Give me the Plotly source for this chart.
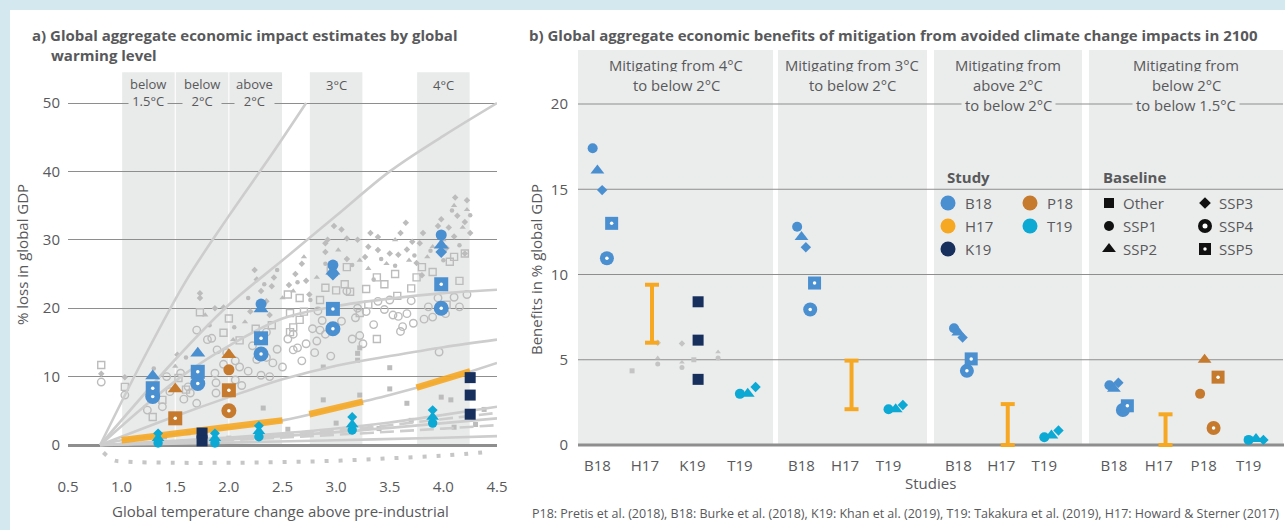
import plotly.graph_objects as go

W, H = 1285, 530
FONT = "Open Sans"
TXT = "#58595b"


def fx(p):
    return p / W


def fy(p):
    return 1 - p / H


COL = {"B18": "#4a8fd0", "P18": "#c57a2d", "H17": "#f7a823",
       "T19": "#0ba9d4", "K19": "#172f5c"}
GRAY_PT = "#bcbcbc"
CURVE = "#cdcdcd"
BAND = "#e9eaea"
FACET = "#ebecec"
GRID = "#8e8e8e"
BLUE_BG = "#d4e8f0"

# ---------------- (a) impact estimates by warming level ----------------
temp_ticks = [0.5, 1.0, 1.5, 2.0, 2.5, 3.0, 3.5, 4.0, 4.5]
loss_ticks = [0, 10, 20, 30, 40, 50]
warming_bands = [(1.0, 1.5), (1.5, 2.0), (2.0, 2.5), (2.75, 3.25), (3.75, 4.25)]
band_labels = ["below<br>1.5°C", "below<br>2°C", "above<br>2°C", "3°C", "4°C"]

# damage functions (temperature °C, loss % GDP)
fn_steep_t = [0.8, 1.2, 1.6, 2.0, 2.4, 2.72]
fn_steep_l = [0, 12.5, 24, 33.5, 42.5, 50]
fn_high_t = [0.8, 1.5, 2.0, 2.5, 3.0, 3.5, 4.0, 4.5]
fn_high_l = [0, 12.5, 20.5, 27, 33.5, 40, 45.2, 50]
fn_sat_t = [0.8, 1.2, 1.6, 2.0, 2.5, 3.0, 3.5, 4.0, 4.5]
fn_sat_l = [0, 5.5, 10.5, 14.5, 18.5, 20.3, 21.4, 22.2, 22.7]
fn_mid_t = [0.8, 1.5, 2.0, 2.5, 3.0, 3.5, 4.0, 4.5]
fn_mid_l = [0, 4.2, 7.0, 9.6, 11.6, 13.0, 14.3, 15.4]
fn_quad_t = [0.8, 1.0, 1.5, 2.0, 2.5, 3.0, 3.5, 4.0, 4.5]
fn_quad_l = [0, 0.7, 1.6, 2.5, 3.6, 5.4, 7.3, 9.5, 12.0]
fn_low1_t = [0.8, 1.5, 2.0, 2.5, 3.0, 3.5, 4.0, 4.5]
fn_low1_l = [0, 0.6, 1.1, 1.7, 2.4, 3.3, 4.4, 5.6]
fn_low2_t = [0.8, 1.5, 2.5, 3.5, 4.5]
fn_low2_l = [0, 0.45, 1.3, 2.5, 3.9]
fn_low3_t = [0.8, 2.0, 3.0, 4.0, 4.5]
fn_low3_l = [0, 0.35, 0.7, 1.05, 1.3]
fn_dash1_t = [0.8, 1.5, 2.0, 2.5, 3.0, 3.5, 4.0, 4.5]
fn_dash1_l = [0, 0.6, 1.0, 1.5, 2.1, 2.9, 3.8, 4.7]
fn_dash2_t = [0.8, 2.0, 3.0, 4.0, 4.5]
fn_dash2_l = [0, 0.7, 1.5, 2.4, 2.9]
fn_gain_t = [0.83, 0.92, 1.0, 1.5, 2.0, 2.5, 3.0, 3.5, 4.0, 4.43]
fn_gain_l = [-1.1, -2.2, -2.4, -2.6, -2.6, -2.5, -2.3, -1.95, -1.55, -1.0]

# H17 within the warming bands
h17_seg_t = [[1.0, 1.5, 2.0, 2.5], [2.75, 3.0, 3.25], [3.75, 4.0, 4.25]]
h17_seg_l = [[0.7, 1.6, 2.5, 3.6], [4.5, 5.4, 6.35], [8.4, 9.5, 10.75]]

# literature estimates (grey)
lit_circles = [(0.81, 9.2), (1.03, 7.3), (1.24, 5.1), (1.38, 5.6), (1.42, 10), (1.55, 10.5),
               (1.62, 8.5), (1.64, 7.6), (1.7, 6.1), (1.7, 16.8), (1.8, 15.4), (1.84, 15.6),
               (1.89, 13.9), (1.87, 10.5), (1.88, 9.1), (1.88, 7.6), (1.98, 13.5), (2.06, 12.3),
               (2.1, 11.4), (2.06, 9.5), (2.12, 8.7), (2.22, 14.5), (2.26, 12.5), (2.3, 13.4),
               (2.35, 12.8), (2.41, 12), (2.38, 10), (2.3, 10.2), (2.6, 13.9), (2.64, 14.2),
               (2.55, 15.5), (2.8, 13.5), (2.82, 15.2), (2.85, 16.8), (2.87, 18.2), (2.83, 19.6),
               (2.78, 17), (2.6, 16.2), (3.18, 18.6), (3.2, 20), (3.28, 19.5), (3.39, 21),
               (3.22, 16), (3.25, 14.8), (3.5, 21.2), (3.53, 19), (3.58, 18.8), (3.66, 19.2),
               (3.6, 16.6), (3.62, 17.3), (3.72, 17.8), (3.86, 20.2), (3.9, 18.7), (3.95, 21.5),
               (4.02, 19.2), (3.96, 13.6), (4.1, 21.6), (4.22, 22), (3.1, 22.5), (3.15, 15.5),
               (2.95, 13), (2.68, 12.3), (2.5, 11.4), (2.45, 14), (2.35, 16.5), (1.45, 7.8),
               (1.58, 6.7), (1.95, 11.8), (2.18, 10.8), (2.72, 14.8), (2.9, 16.2), (3.05, 18.1),
               (3.35, 17.6), (3.45, 19.8), (3.7, 21.1), (3.82, 18.4), (4.15, 20.2)]
lit_squares = [(0.81, 11.7), (1.03, 8.5), (1.29, 4.1), (1.38, 6.6), (1.53, 9.8), (1.6, 8.1),
               (1.73, 19.4), (1.95, 16.4), (2.0, 18.5), (2.1, 15.3), (2.25, 17), (2.3, 15.5),
               (2.4, 17.5), (2.57, 19.3), (2.57, 16.5), (2.6, 17.2), (2.66, 18.3), (2.66, 21.5),
               (2.7, 19.5), (2.55, 22), (2.85, 21.2), (2.9, 23), (3.0, 22.6), (3.08, 23.5),
               (3.13, 22.4), (3.28, 22.8), (3.38, 24.5), (3.3, 20.5), (3.22, 19.3), (3.45, 23.5),
               (3.55, 25), (3.7, 22.9), (3.75, 24.5), (3.8, 26), (3.9, 25.3), (4.06, 26.8),
               (4.15, 24), (4.2, 28), (4.03, 20.5), (4.1, 27.5), (3.38, 15.5), (3.57, 21.8),
               (3.1, 26), (2.95, 25.5)]
lit_diamonds = [(0.81, 10.4), (1.03, 9.9), (1.52, 13.2), (1.73, 22.2), (1.73, 21.5), (1.87, 20),
                (1.95, 20.1), (2.2, 19.5), (2.24, 25.6), (2.26, 24.2), (2.3, 22.5), (2.35, 21),
                (2.4, 23.2), (2.38, 19), (2.42, 24.5), (2.56, 23.4), (2.62, 25), (2.68, 26.5),
                (2.72, 24), (2.75, 22), (2.9, 28.2), (2.9, 29.5), (2.92, 30), (3.1, 30.2),
                (3.2, 30), (3.27, 27.5), (3.3, 29), (3.32, 31), (3.39, 28.5), (3.39, 30.4),
                (3.5, 28), (3.58, 27.8), (3.66, 28.6), (3.71, 29.7), (3.78, 29.5), (3.81, 31),
                (3.75, 26.6), (3.8, 24.8), (4.03, 28.8), (4.1, 30.5), (4.2, 28), (4.11, 36.2),
                (4.22, 35.8), (4.13, 33.5), (4.2, 32.6), (4.05, 31.8), (3.98, 33), (3.95, 32),
                (4.25, 31), (3.6, 31), (3.65, 32.5), (3.1, 27.2), (2.98, 32), (3.05, 31.5)]
lit_triangles = [(1.5, 11.5), (1.78, 19), (2.04, 15.4), (2.15, 18), (2.28, 20.5), (2.5, 21.5),
                 (2.7, 27.5), (2.82, 24.5), (3.02, 28.5), (3.22, 27), (3.3, 25.8), (3.47, 26.5),
                 (3.68, 27), (3.85, 27.5), (4.0, 30), (4.1, 35), (4.22, 34.4), (4.18, 31.8),
                 (3.9, 29), (3.55, 30), (2.6, 22.5)]
lit_dots = [(1.3, 11.2), (1.6, 12.8), (1.82, 17.5), (2.05, 17.2), (2.18, 21.5), (2.33, 23.5),
            (2.45, 25.6), (2.64, 23.8), (2.76, 21.2), (3.0, 25), (3.15, 26.3), (3.42, 27.2),
            (3.55, 26.2), (3.73, 27.7), (3.88, 28.4), (4.0, 27), (4.15, 29.2), (4.25, 33.6),
            (4.08, 34.3), (2.9, 26.5), (3.35, 24.2)]
lit_small_sq = [(2.88, 11.4), (3.22, 14.2), (3.2, 13.4), (3.2, 12.4), (3.5, 11.3), (3.5, 8.2),
                (2.88, 6.6), (3.22, 7.3), (3.66, 6.1), (3.98, 7.0), (4.07, 6.6), (2.32, 5.4),
                (2.55, 2.3), (2.7, 1.6), (3.0, 3.2), (3.7, 3.6), (4.1, 2.6), (1.4, 1.2),
                (1.62, 1.8), (2.0, 1.0), (3.4, 2.4), (4.3, 3.0), (4.38, 5.2)]

# highlighted studies (temperature, loss % GDP per baseline)
b18_temp = [1.29, 1.71, 2.30, 2.97, 3.98]
b18_ssp1 = [None, None, 20.6, 26.3, 30.7]
b18_ssp2 = [10.1, 13.4, 19.9, 25.4, 29.2]
b18_ssp3 = [None, None, None, 24.9, 28.2]
b18_ssp4 = [7.1, 9.0, 13.3, 17.0, 20.0]
b18_ssp5 = [8.3, 10.7, 15.6, 19.9, 23.5]
p18_temp = [1.50, 2.00]
p18_ssp1 = [None, 11.0]
p18_ssp2 = [8.2, 13.2]
p18_ssp4 = [None, 5.0]
p18_ssp5 = [3.9, 8.0]
t19_temp = [1.34, 1.87, 2.28, 3.15, 3.90]
t19_ssp1 = [0.3, 0.3, 1.2, 2.2, 3.2]
t19_ssp2 = [1.0, 1.0, 2.0, 3.0, 4.1]
t19_ssp3 = [1.7, 1.7, 2.8, 4.1, 5.1]
k19_temp = [1.75, 1.75, 4.25, 4.25, 4.25]
k19_loss = [1.75, 0.6, 9.85, 7.3, 4.5]

# ---------------- (b) benefits of mitigation in 2100 ----------------
facet_titles = [["Mitigating from 4°C", "to below 2°C"],
                ["Mitigating from 3°C", "to below 2°C"],
                ["Mitigating from", "above 2°C", "to below 2°C"],
                ["Mitigating from", "below 2°C", "to below 1.5°C"]]
facet_studies = [["B18", "H17", "K19", "T19"], ["B18", "H17", "T19"],
                 ["B18", "H17", "T19"], ["B18", "H17", "P18", "T19"]]
benefit_ticks = [0, 5, 10, 15, 20]
ben_b18_ssp1 = [17.4, 12.8, 6.85, 3.5]
ben_b18_ssp2 = [16.1, 12.2, 6.6, 3.3]
ben_b18_ssp3 = [14.95, 11.6, 6.3, 3.65]
ben_b18_ssp4 = [10.95, 7.95, 4.35, 2.05]
ben_b18_ssp5 = [13.0, 9.5, 5.05, 2.3]
ben_h17_low = [6.0, 2.1, 0.0, 0.0]
ben_h17_high = [9.4, 4.95, 2.4, 1.8]
ben_t19_ssp1 = [3.0, 2.1, 0.45, 0.3]
ben_t19_ssp2 = [3.0, 2.1, 0.55, 0.35]
ben_t19_ssp3 = [3.4, 2.35, 0.85, 0.3]
ben_k19_other = [8.4, 6.15, 3.85]
ben_p18_base = ["SSP1", "SSP2", "SSP4", "SSP5"]
ben_p18_val = [3.0, 5.0, 1.0, 3.98]
# other estimates shown in grey in the first facet (category position, benefit)
ben_grey_pos = [0.73, 1.27, 1.27, 1.27, 1.78, 1.78, 1.78, 2.03, 2.54, 2.54]
ben_grey_val = [4.35, 6.0, 5.1, 4.75, 5.95, 4.85, 4.55, 5.0, 5.45, 5.1]
ben_grey_sym = ["square", "diamond", "triangle-up", "circle", "diamond", "triangle-up",
                "circle", "square", "triangle-up", "circle"]

footnote = ("P18: Pretis et al. (2018), B18: Burke et al. (2018), K19: Khan et al. (2019), "
            "T19: Takakura et al. (2019), H17: Howard &amp; Sterner (2017)")

# ---------------- drawing ----------------
fig = go.Figure()


def add(x, y, xa, ya, **kw):
    fig.add_trace(go.Scatter(x=x, y=y, xaxis=xa, yaxis=ya, showlegend=False,
                             hoverinfo="skip", **kw))


SYMBOL = {"Other": "square", "SSP1": "circle", "SSP2": "triangle-up",
          "SSP3": "diamond", "SSP4": "circle", "SSP5": "square"}
SIZE_A = {"Other": 11, "SSP1": 11, "SSP2": 13, "SSP3": 9, "SSP4": 15, "SSP5": 14}
SIZE_B = {"Other": 11, "SSP1": 10, "SSP2": 12, "SSP3": 8, "SSP4": 14, "SSP5": 13}


def add_study(x, y, base, colour, xa, ya, sizes, scale=1.0):
    pts = [(a, b) for a, b in zip(x, y) if b is not None]
    if not pts:
        return
    xs, ys = [p[0] for p in pts], [p[1] for p in pts]
    add(xs, ys, xa, ya, mode="markers",
        marker=dict(symbol=SYMBOL[base], size=sizes[base] * scale, color=colour,
                    line=dict(width=0)))
    if base in ("SSP4", "SSP5"):
        add(xs, ys, xa, ya, mode="markers",
            marker=dict(symbol="circle", size=3.5, color="white", line=dict(width=0)))


# panel (a): grey literature points
for pts, sym, size, lw in [(lit_circles, "circle-open", 7.5, 1.4), (lit_squares, "square-open", 7, 1.4),
                           (lit_diamonds, "diamond", 5, 0), (lit_triangles, "triangle-up", 5.5, 0),
                           (lit_dots, "circle", 4.5, 0), (lit_small_sq, "square", 5, 0)]:
    add([p[0] for p in pts], [p[1] for p in pts], "x", "y", mode="markers",
        marker=dict(symbol=sym, size=size, color=GRAY_PT, line=dict(color=GRAY_PT, width=lw)))

# panel (a): damage functions
for t, l in [(fn_steep_t, fn_steep_l), (fn_high_t, fn_high_l), (fn_sat_t, fn_sat_l),
             (fn_mid_t, fn_mid_l), (fn_quad_t, fn_quad_l), (fn_low1_t, fn_low1_l),
             (fn_low2_t, fn_low2_l), (fn_low3_t, fn_low3_l)]:
    add(t, l, "x", "y", mode="lines", line=dict(color=CURVE, width=2.6, shape="spline"))
for t, l in [(fn_dash1_t, fn_dash1_l), (fn_dash2_t, fn_dash2_l)]:
    add(t, l, "x", "y", mode="lines",
        line=dict(color=CURVE, width=2.6, shape="spline", dash="14px,6px"))
add(fn_gain_t, fn_gain_l, "x", "y", mode="lines",
    line=dict(color="#c6c6c6", width=4, shape="spline", dash="4px,10px"))

for t, l in zip(h17_seg_t, h17_seg_l):
    add(t, l, "x", "y", mode="lines", line=dict(color=COL["H17"], width=6.5), opacity=0.9)

# panel (a): highlighted studies
for base, vals in [("SSP1", b18_ssp1), ("SSP2", b18_ssp2), ("SSP3", b18_ssp3),
                   ("SSP4", b18_ssp4), ("SSP5", b18_ssp5)]:
    add_study(b18_temp, vals, base, COL["B18"], "x", "y", SIZE_A)
for base, vals in [("SSP1", p18_ssp1), ("SSP2", p18_ssp2), ("SSP4", p18_ssp4), ("SSP5", p18_ssp5)]:
    add_study(p18_temp, vals, base, COL["P18"], "x", "y", SIZE_A)
for base, vals in [("SSP1", t19_ssp1), ("SSP2", t19_ssp2), ("SSP3", t19_ssp3)]:
    add_study(t19_temp, vals, base, COL["T19"], "x", "y", SIZE_A, 0.85)
add_study(k19_temp, k19_loss, "Other", COL["K19"], "x", "y", SIZE_A)

# panel (b): facets
FACET_PX = [(578, 773, 597.4, 47.5), (778, 927, 801.5, 43.5),
            (934, 1082, 958.3, 43.0), (1089, 1283, 1113.9, 44.9)]
FACET_AX = ["x2", "x3", "x4", "x5"]
SSP_ORDER = {"SSP1": 0, "SSP2": 1, "SSP3": 2, "SSP4": 3, "SSP5": 4}
DODGE = {"B18": (-0.1, 0.1), "P18": (-0.08, 0.1), "T19": (0.0, 0.165)}
H17_SHIFT, K19_SHIFT = 0.15, 0.12

add(ben_grey_pos, ben_grey_val, "x2", "y2", mode="markers",
    marker=dict(symbol=ben_grey_sym, size=5, color="#c4c4c4"))

for f, studies in enumerate(facet_studies):
    xa = FACET_AX[f]
    for idx, study in enumerate(studies):
        if study == "B18":
            for base, vals in [("SSP1", ben_b18_ssp1), ("SSP2", ben_b18_ssp2), ("SSP3", ben_b18_ssp3),
                               ("SSP4", ben_b18_ssp4), ("SSP5", ben_b18_ssp5)]:
                s0, st = DODGE["B18"]
                add_study([idx + s0 + st * SSP_ORDER[base]], [vals[f]], base, COL["B18"], xa, "y2", SIZE_B)
        elif study == "T19":
            for base, vals in [("SSP1", ben_t19_ssp1), ("SSP2", ben_t19_ssp2), ("SSP3", ben_t19_ssp3)]:
                s0, st = DODGE["T19"]
                add_study([idx + s0 + st * SSP_ORDER[base]], [vals[f]], base, COL["T19"], xa, "y2", SIZE_B)
        elif study == "P18":
            for base, val in zip(ben_p18_base, ben_p18_val):
                s0, st = DODGE["P18"]
                add_study([idx + s0 + st * SSP_ORDER[base]], [val], base, COL["P18"], xa, "y2", SIZE_B)
        elif study == "K19":
            add_study([idx + K19_SHIFT] * len(ben_k19_other), ben_k19_other, "Other",
                      COL["K19"], xa, "y2", SIZE_B)
        elif study == "H17":
            pos = idx + H17_SHIFT
            add([pos, pos], [ben_h17_low[f], ben_h17_high[f]], xa, "y2", mode="lines+markers",
                line=dict(color=COL["H17"], width=4),
                marker=dict(symbol="line-ew", size=10, color=COL["H17"],
                            line=dict(color=COL["H17"], width=4)))

# legend glyphs (pixel overlay)
leg_study = [("B18", 948, 203), ("H17", 948, 226), ("K19", 948, 249), ("P18", 1030, 203), ("T19", 1030, 226)]
for name, px, py in leg_study:
    add([px], [py], "x6", "y3", mode="markers",
        marker=dict(symbol="circle", size=15, color=COL[name]))
leg_base = [("Other", 1109, 203), ("SSP1", 1109, 226), ("SSP2", 1109, 249),
            ("SSP3", 1205, 203), ("SSP4", 1205, 226), ("SSP5", 1205, 249)]
LEG_SIZE = {"Other": 10, "SSP1": 10, "SSP2": 12, "SSP3": 9, "SSP4": 14, "SSP5": 12}
for name, px, py in leg_base:
    add([px], [py], "x6", "y3", mode="markers",
        marker=dict(symbol=SYMBOL[name], size=LEG_SIZE[name], color="#111111"))
    if name in ("SSP4", "SSP5"):
        add([px], [py], "x6", "y3", mode="markers",
            marker=dict(symbol="circle", size=5 if name == "SSP4" else 3.5, color="white"))

# ---------------- shapes ----------------
shapes = [dict(type="rect", xref="paper", yref="paper", x0=fx(10), x1=1, y0=0, y1=fy(10),
               fillcolor="white", line=dict(width=0), layer="below")]
A_TOP = 54.5
for x0, x1 in warming_bands:
    shapes.append(dict(type="rect", xref="x", yref="y", x0=x0 + 0.005, x1=x1 - 0.005, y0=0, y1=A_TOP,
                       fillcolor=BAND, line=dict(width=0), layer="below"))
B_PX = 17.05
B_TOP = 395 / B_PX
for lo, hi, _, _ in FACET_PX:
    shapes.append(dict(type="rect", xref="paper", yref="y2", x0=fx(lo), x1=fx(hi), y0=0, y1=B_TOP,
                       fillcolor=FACET, line=dict(width=0), layer="below"))
for v in benefit_ticks[1:]:
    shapes.append(dict(type="line", xref="paper", yref="y2", x0=fx(578), x1=fx(1283), y0=v, y1=v,
                       line=dict(color=GRID, width=1.2), layer="below"))
shapes.append(dict(type="line", xref="paper", yref="y2", x0=fx(578), x1=fx(1284), y0=0, y1=0,
                   line=dict(color="#8e8e8e", width=3), layer="below"))

# ---------------- annotations ----------------
anns = []


def text(t, px, py, size=15, anchor="center", bold=False, bg=None, angle=0, pad=2, color=TXT):
    a = dict(text=f"<b>{t}</b>" if bold else t, x=fx(px), y=fy(py), xref="paper", yref="paper",
             xanchor=anchor, yanchor="middle", showarrow=False, textangle=angle,
             font=dict(family=FONT, size=size, color=color))
    if bg:
        a.update(bgcolor=bg, borderpad=pad)
    anns.append(a)


text("a) Global aggregate economic impact estimates by global", 30, 35, 15, "left", True)
text("warming level", 49, 55, 15, "left", True)
text("b) Global aggregate economic benefits of mitigation from avoided climate change impacts in 2100",
     527, 35, 15, "left", True)

band_px = [148, 202, 255, 336, 443]
for cx, lab in zip(band_px, band_labels):
    two = "<br>" in lab
    text(lab, cx, 93 if two else 85, 13, bg=BAND, pad=1)

text("% loss in global GDP", 22, 255, 15, angle=-90)
text("Global temperature change above pre-industrial", 280, 511, 15)

facet_cx = [676, 852, 1008, 1186]
for cx, lines in zip(facet_cx, facet_titles):
    for k, ln in enumerate(lines):
        text(ln, cx, 65 + 20 * k, 14.8, bg=FACET, pad=3)

text("Benefits in % global GDP", 536, 270, 15, angle=-90)
text("Studies", 930, 483, 15)
text(footnote, 1281, 513, 12.5, "right")

text("Study", 945, 177, 15, "left", True)
text("Baseline", 1101, 177, 15, "left", True)
for name, px, py in leg_study:
    text(name, px + 15, py, 15, "left")
for name, px, py in leg_base:
    text(name, px + 12, py, 15, "left")

# ---------------- layout ----------------
tickfont = dict(family=FONT, size=15, color=TXT)
layout = dict(
    width=W, height=H, margin=dict(l=0, r=0, t=0, b=0, autoexpand=False),
    paper_bgcolor=BLUE_BG, plot_bgcolor="rgba(0,0,0,0)",
    showlegend=False, shapes=shapes, annotations=anns,
    xaxis=dict(domain=[fx(68), fx(497)], range=[0.5, 4.5], anchor="y",
               tickvals=temp_ticks, ticktext=[f"{t:.1f}" for t in temp_ticks],
               showgrid=False, zeroline=False, showline=False, ticks="",
               tickfont=tickfont, ticklabelstandoff=6, automargin=False),
    yaxis=dict(domain=[fy(470), fy(70)], range=[(445 - 470) / 6.84, (445 - 70) / 6.84], anchor="x",
               tickvals=loss_ticks, showgrid=True, gridcolor=GRID, gridwidth=1.2,
               zeroline=True, zerolinecolor="#8e8e8e", zerolinewidth=3,
               showline=False, ticks="", tickfont=tickfont, ticklabelstandoff=7, automargin=False),
    yaxis2=dict(domain=[fy(450), fy(50)], range=[-5 / B_PX, B_TOP], anchor="x2",
                tickvals=benefit_ticks, showgrid=False, zeroline=False, showline=False,
                ticks="", tickfont=tickfont, ticklabelstandoff=9, automargin=False),
    xaxis6=dict(domain=[0, 1], range=[0, W], anchor="y3", visible=False, automargin=False),
    yaxis3=dict(domain=[0, 1], range=[H, 0], anchor="x6", visible=False, automargin=False),
)
for f, (lo, hi, first, step) in enumerate(FACET_PX):
    n = len(facet_studies[f])
    layout["xaxis%d" % (f + 2)] = dict(
        domain=[fx(lo), fx(hi)], range=[(lo - first) / step, (hi - first) / step], anchor="y2",
        tickvals=list(range(n)), ticktext=facet_studies[f], showgrid=False, zeroline=False,
        showline=False, ticks="", tickfont=tickfont, ticklabelstandoff=5, automargin=False)

fig.update_layout(**layout)
fig.write_html("out.html")
